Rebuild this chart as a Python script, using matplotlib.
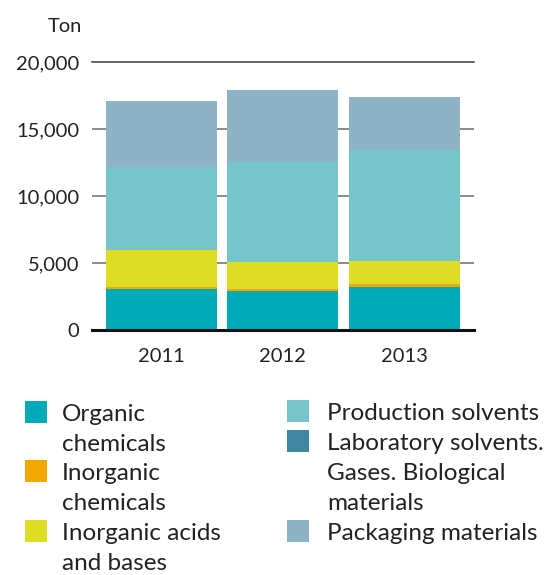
import matplotlib
matplotlib.use("Agg")
import matplotlib.pyplot as plt
from matplotlib.patches import Rectangle
import numpy as np

plt.rcParams['font.family'] = ['Lato', 'DejaVu Sans']

years = ["2011", "2012", "2013"]
organic_chemicals = [3060, 2880, 3180]
inorganic_chemicals = [170, 150, 260]
inorganic_acids_bases = [2760, 2010, 1700]
production_solvents = [6140, 7520, 8320]
lab_solvents_gases_bio = [0, 0, 0]
packaging_materials = [4990, 5360, 3960]

series_labels = [
    "Organic\nchemicals",
    "Inorganic\nchemicals",
    "Inorganic acids\nand bases",
    "Production solvents",
    "Laboratory solvents.\nGases. Biological\nmaterials",
    "Packaging materials",
]
series_colors = ["#00AAB6", "#F4A700", "#DEDC25", "#76C5CA", "#3F86A0", "#8FB3C6"]
series_values = [organic_chemicals, inorganic_chemicals, inorganic_acids_bases,
                 production_solvents, lab_solvents_gases_bio, packaging_materials]

y_ticks = [0, 5000, 10000, 15000, 20000]
y_tick_labels = ["0", "5,000", "10,000", "15,000", "20,000"]

W, H = 544, 575
fig = plt.figure(figsize=(W / 100, H / 100), dpi=100)
ax = fig.add_axes([92 / W, 1 - 330 / H, (474 - 92) / W, (330 - 62) / H])

x = np.arange(len(years))
bottom = np.zeros(len(years))
for vals, col in zip(series_values, series_colors):
    ax.bar(x, vals, width=0.914, bottom=bottom, color=col, zorder=3, linewidth=0)
    bottom += np.array(vals)

ax.set_xlim(-0.568, 2.572)
ax.set_ylim(0, 20000)

for yv in y_ticks[1:-1]:
    ax.axhline(yv, color="#6b6b6b", linewidth=1.1, zorder=1)
ax.axhline(20000, color="#3a3a3a", linewidth=1.1, zorder=1, clip_on=False)
ax.axhline(0, color="#111111", linewidth=2.2, zorder=4, clip_on=False)

for s in ax.spines.values():
    s.set_visible(False)

ax.set_yticks(y_ticks)
ax.set_yticklabels(y_tick_labels, fontsize=14.5, color="#222222")
ax.set_xticks(x)
ax.set_xticklabels(years, fontsize=14.5, color="#222222")
ax.tick_params(axis="y", length=0, pad=9)
ax.tick_params(axis="x", length=0, pad=13)

fig.text(82 / W, 1 - 26 / H, "Ton", ha="right", va="center", fontsize=14.5, color="#222222")

# Legend drawn as two columns of swatches and wrapped labels
line_h = 30
columns = [
    (25, 62, [0, 1, 2], [412, 471, 531]),
    (287, 327, [3, 4, 5], [411, 441, 531]),
]
for sq_x, tx, idxs, ys in columns:
    for i, yc in zip(idxs, ys):
        fig.patches.append(Rectangle((sq_x / W, 1 - (yc + 11) / H), 22 / W, 22 / H,
                                     transform=fig.transFigure, color=series_colors[i],
                                     linewidth=0))
        for k, line in enumerate(series_labels[i].split("\n")):
            fig.text(tx / W, 1 - (yc + 9 + k * line_h) / H, line, ha="left",
                     va="baseline", fontsize=17.5, color="#222222")

fig.savefig("out.png", dpi=100, facecolor="white")
